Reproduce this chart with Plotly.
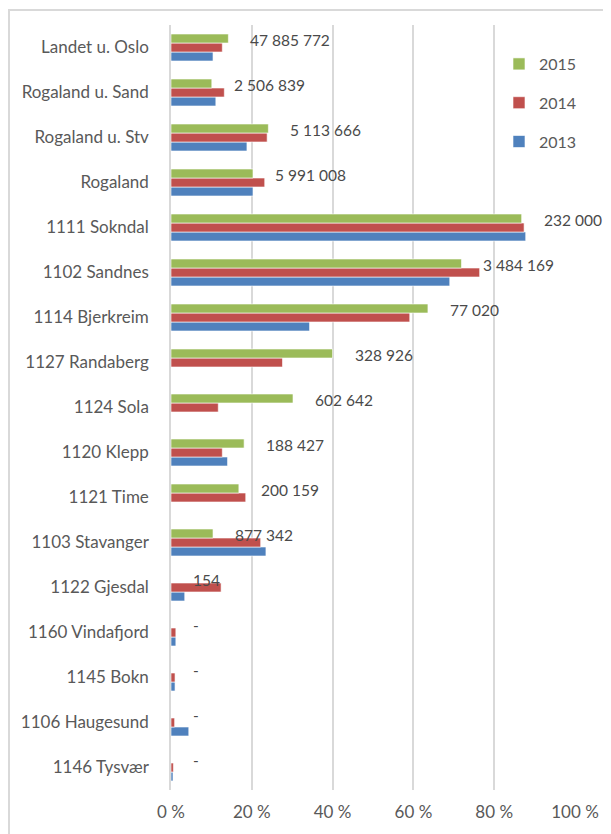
import plotly.graph_objects as go

# Categories listed bottom-to-top (as on the chart)
categories = [
    "1146 Tysvær", "1106 Haugesund", "1145 Bokn", "1160 Vindafjord",
    "1122 Gjesdal", "1103 Stavanger", "1121 Time", "1120 Klepp",
    "1124 Sola", "1127 Randaberg", "1114 Bjerkreim", "1102 Sandnes",
    "1111 Sokndal", "Rogaland", "Rogaland u. Stv", "Rogaland u. Sand",
    "Landet u. Oslo",
]
v2013 = [0.005, 0.044, 0.010, 0.012, 0.034, 0.235, None, 0.140,
         None, None, 0.343, 0.690, 0.878, 0.203, 0.188, 0.111, 0.104]
v2014 = [0.006, 0.009, 0.010, 0.012, 0.124, 0.222, 0.185, 0.127,
         0.117, 0.276, 0.591, 0.764, 0.874, 0.232, 0.238, 0.132, 0.127]
v2015 = [None, None, None, None, None, 0.104, 0.168, 0.181,
         0.302, 0.400, 0.636, 0.719, 0.868, 0.203, 0.241, 0.101, 0.142]
labels = ["-", "-", "-", "-", "154", "877 342", "200 159", "188 427",
          "602 642", "328 926", "77 020", "3 484 169", "232 000",
          "5 991 008", "5 113 666", "2 506 839", "47 885 772"]
series_names = ["2013", "2014", "2015"]
legend_ranks = [3, 2, 1]
colors = ["#4F81BD", "#C0504D", "#9BBB59"]
tick_vals = [0, 0.2, 0.4, 0.6, 0.8, 1.0]
tick_text = ["0 %", "20 %", "40 %", "60 %", "80 %", "100 %"]

FONT = "Lato"
GREY = "#595959"
bargap = 0.4

# page offset (browser body margin)
OFF = 8

fig = go.Figure()
for name, vals, col, rk in zip(series_names, [v2013, v2014, v2015], colors, legend_ranks):
    fig.add_trace(go.Bar(
        y=categories, x=vals, name=name, orientation="h",
        marker=dict(color=col, line=dict(color="white", width=0.6)),
        legendgroup=name, legendrank=rk,
    ))

# value labels next to the 2015 bar
bar_w = (1 - bargap) / 3
for i, (lab, g) in enumerate(zip(labels, v2015)):
    fig.add_annotation(
        x=g if g is not None else 0, y=i + bar_w, xref="x", yref="y",
        text=lab, showarrow=False, xanchor="left", yanchor="middle",
        xshift=20, yshift=-1,
        font=dict(family=FONT, size=15.5, color="#4a4a4a"),
    )

# plot-area geometry in page pixels
L, R, T, B = 171 - OFF, 575 - OFF, 25 - OFF, 790 - OFF
W, H = R - L, B - T
fig.add_shape(type="rect", xref="paper", yref="paper",
              x0=(9 - OFF - L) / W, x1=(630 - L) / W,
              y0=(B - 860) / H, y1=(B - (10 - OFF)) / H,
              line=dict(color="#d9d9d9", width=2), layer="below")

fig.update_layout(
    width=611, height=834,
    margin=dict(l=L, r=611 - R, t=T, b=834 - B),
    paper_bgcolor="white", plot_bgcolor="white",
    barmode="group", bargap=bargap, bargroupgap=0,
    font=dict(family=FONT, size=16, color=GREY),
    showlegend=True,
    legend=dict(
        x=(499 - OFF - L) / W, y=(B - (47 - OFF)) / H, xanchor="left", yanchor="top",
        traceorder="grouped", tracegroupgap=15,
        font=dict(family=FONT, size=16, color=GREY),
        bgcolor="rgba(0,0,0,0)",
    ),
    xaxis=dict(
        range=[0, 1.0], tickvals=tick_vals, ticktext=tick_text,
        showgrid=True, gridcolor="#d9d9d9", gridwidth=1.5,
        zeroline=False, showline=False, ticks="",
        tickfont=dict(family=FONT, size=17, color=GREY),
        ticklabelstandoff=10, fixedrange=True,
    ),
    yaxis=dict(
        type="category", categoryorder="array", categoryarray=categories,
        range=[-0.5, len(categories) - 0.5],
        showline=True, linecolor="#d9d9d9", linewidth=1.5,
        showgrid=False, ticks="",
        tickfont=dict(family=FONT, size=17, color=GREY),
        ticklabelstandoff=17,
    ),
)

fig.write_html("out.html")
